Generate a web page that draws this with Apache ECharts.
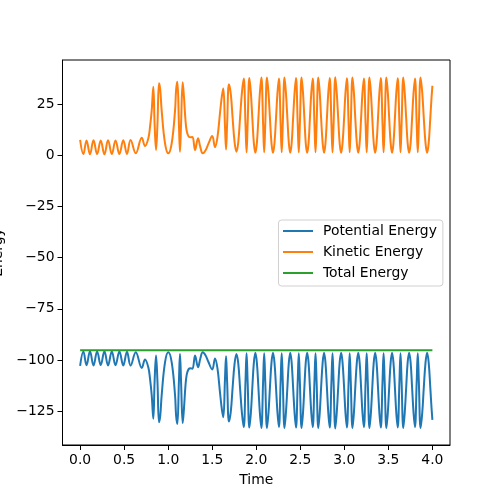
<!DOCTYPE html>
<html><head><meta charset="utf-8">
<script src="https://cdn.jsdelivr.net/npm/echarts@6/dist/echarts.min.js"></script>
<style>html,body{margin:0;padding:0;background:#fff}#c{width:500px;height:500px}</style>
</head><body><div id="c"></div>
<script>
const seriesNames = ['Potential Energy', 'Kinetic Energy', 'Total Energy'];
const xTicks = [0, 0.5, 1, 1.5, 2, 2.5, 3, 3.5, 4];
const yTicks = [-125, -100, -75, -50, -25, 0, 25];

const time = [0,0.037,0.073,0.112,0.152,0.193,0.234,0.276,0.317,0.36,0.402,0.446,0.49,0.532,0.573,0.632,0.70,0.737,0.775,0.794,0.813,0.831,
0.846,0.862,0.878,0.896,0.91,0.926,0.964,1.001,1.04,1.078,1.09,1.104,
1.122,1.134,1.146,1.165,1.18,1.195,1.21,1.232,1.256,1.276,1.305,1.339,1.365,1.392,1.425,1.456,1.50,1.532,1.56,1.588,1.61,1.626,
1.645,1.657,1.669,1.690,1.711,1.732,1.754,1.775,1.796,1.817,1.838,1.858,
1.878,1.890,1.902,1.922,1.939,1.956,1.973,1.99,2.007,2.024,2.041,2.058,
2.078,2.090,2.102,2.122,2.139,2.156,2.173,2.19,2.207,2.224,2.241,2.257,
2.277,2.289,2.301,2.321,2.337,2.354,2.37,2.386,2.402,2.418,2.435,2.451,
2.471,2.483,2.495,2.515,2.531,2.547,2.562,2.578,2.594,2.609,2.625,2.641,
2.661,2.673,2.685,2.705,2.721,2.737,2.754,2.77,2.786,2.802,2.818,2.834,
2.854,2.866,2.878,2.898,2.914,2.931,2.947,2.964,2.98,2.997,3.013,3.029,
3.049,3.061,3.073,3.093,3.109,3.125,3.142,3.158,3.174,3.19,3.206,3.222,
3.242,3.254,3.266,3.286,3.302,3.318,3.334,3.35,3.366,3.382,3.398,3.414,
3.434,3.446,3.458,3.478,3.494,3.51,3.526,3.542,3.558,3.574,3.59,3.606,
3.626,3.638,3.65,3.67,3.686,3.703,3.719,3.736,3.753,3.769,3.786,3.802,
3.822,3.834,3.846,3.866,3.885,3.903,3.922,3.94,3.958,3.976,3.99,4.0];

const kinetic = [7.6,0.6,7.3,0.5,7.4,0.6,7.2,0.5,7.4,0.6,7.3,0.6,7.4,0.7,7.5,1.0,8.6,4.5,8.4,14,22,33.5,
15,2.6,15,35.2,32,22,5.9,1.0,5.9,22,32,36,
15,1.8,15,35.7,28,18,12,9.2,8.8,9.0,2.6,8.3,4.0,1.0,2.5,5.6,9.4,4.0,9.0,20.5,29,32.7,
14,2.9,15,34.8,30,18,6.5,1.8,6.5,19,31,37.6,
15,1.5,15,37.8,30.5,17.8,6,1.2,6,17.8,30.5,38,
15,1.5,15,38,30.5,17.8,6,1.2,6,17.8,30.5,37.5,
15,1.5,15,38,30.5,17.8,6,1.2,6,17.8,30.5,37.8,
15,1.5,15,38,30.5,17.8,6,1.2,6,17.8,30.5,37.6,
15,1.5,15,38,30.5,17.8,6,1.2,6,17.8,30.5,37.8,
15,1.5,15,38.2,30.5,17.8,6,1.2,6,17.8,30.5,37.7,
15,1.5,15,38,30.5,17.8,6,1.2,6,17.8,30.5,37.6,
15,1.5,15,38,30.5,17.8,6,1.2,6,17.8,30.5,37.8,
15,1.5,15,38,30.5,17.8,6,1.2,6,17.8,30.5,37.7,
15,1.5,15,38,30.5,17.8,6,1.2,6,17.8,30.5,37.6,
15,1.5,15,38,30.5,17.8,6,1.2,6,18,28,34];

const potential = [-102.9,-95.9,-102.6,-95.8,-102.7,-95.9,-102.5,-95.8,-102.7,-95.9,-102.6,-95.9,-102.7,-96.0,-102.8,-96.3,-103.9,-99.8,-103.7,-109.3,-117.3,-128.8,
-110.3,-97.9,-110.3,-130.5,-127.3,-117.3,-101.2,-96.3,-101.2,-117.3,-127.3,-131.3,
-110.3,-97.1,-110.3,-131.0,-123.3,-113.3,-107.3,-104.5,-104.1,-104.3,-97.9,-103.6,-99.3,-96.3,-97.8,-100.9,-104.7,-99.3,-104.3,-115.8,-124.3,-128.0,
-109.3,-98.2,-110.3,-130.1,-125.3,-113.3,-101.8,-97.1,-101.8,-114.3,-126.3,-132.9,
-110.3,-96.8,-110.3,-133.1,-125.8,-113.1,-101.3,-96.5,-101.3,-113.1,-125.8,-133.3,
-110.3,-96.8,-110.3,-133.3,-125.8,-113.1,-101.3,-96.5,-101.3,-113.1,-125.8,-132.8,
-110.3,-96.8,-110.3,-133.3,-125.8,-113.1,-101.3,-96.5,-101.3,-113.1,-125.8,-133.1,
-110.3,-96.8,-110.3,-133.3,-125.8,-113.1,-101.3,-96.5,-101.3,-113.1,-125.8,-132.9,
-110.3,-96.8,-110.3,-133.3,-125.8,-113.1,-101.3,-96.5,-101.3,-113.1,-125.8,-133.1,
-110.3,-96.8,-110.3,-133.5,-125.8,-113.1,-101.3,-96.5,-101.3,-113.1,-125.8,-133.0,
-110.3,-96.8,-110.3,-133.3,-125.8,-113.1,-101.3,-96.5,-101.3,-113.1,-125.8,-132.9,
-110.3,-96.8,-110.3,-133.3,-125.8,-113.1,-101.3,-96.5,-101.3,-113.1,-125.8,-133.1,
-110.3,-96.8,-110.3,-133.3,-125.8,-113.1,-101.3,-96.5,-101.3,-113.1,-125.8,-133.0,
-110.3,-96.8,-110.3,-133.3,-125.8,-113.1,-101.3,-96.5,-101.3,-113.1,-125.8,-132.9,
-110.3,-96.8,-110.3,-133.3,-125.8,-113.1,-101.3,-96.5,-101.3,-113.3,-123.3,-129.3];

const totalTime = [0, 0.5, 1, 1.5, 2, 2.5, 3, 3.5, 4];
const total = [-95.3, -95.3, -95.3, -95.3, -95.3, -95.3, -95.3, -95.3, -95.3];

const colors = ['#1f77b4', '#ff7f0e', '#2ca02c'];
const FONT = 'DejaVu Sans';
const FS = 13.9;

function pairs(xs, ys) { return xs.map((x, i) => [x, ys[i]]); }

const chart = echarts.init(document.getElementById('c'), null, { renderer: 'canvas' });
const txt = { fontFamily: FONT, fontSize: FS, color: '#000' };

chart.setOption({
  animation: false,
  backgroundColor: '#fff',
  grid: { left: 62.5, right: 50, top: 60, bottom: 55, containLabel: false, outerBoundsMode: 'none',
          show: true, borderColor: '#000', borderWidth: 1, backgroundColor: 'transparent' },
  xAxis: {
    type: 'value', min: -0.2, max: 4.2,
    name: 'Time', nameLocation: 'middle', nameGap: 28, nameTextStyle: txt,
    axisLine: { show: true, onZero: false, lineStyle: { color: '#000', width: 1 } },
    axisTick: { show: true, inside: false, length: 5, lineStyle: { color: '#000', width: 1 }, customValues: xTicks },
    axisLabel: { customValues: xTicks, formatter: v => Number(v).toFixed(1), margin: 8, ...txt },
    splitLine: { show: false }
  },
  yAxis: {
    type: 'value', min: -141.6, max: 46.6,
    name: 'Energy', nameLocation: 'middle', nameGap: 50, nameTextStyle: txt,
    axisLine: { show: true, onZero: false, lineStyle: { color: '#000', width: 1 } },
    axisTick: { show: true, inside: false, length: 5, lineStyle: { color: '#000', width: 1 }, customValues: yTicks },
    axisLabel: { customValues: yTicks, formatter: v => (v < 0 ? '\u2212' + Math.abs(v) : String(v)), margin: 8, ...txt },
    splitLine: { show: false }
  },
  legend: {
    orient: 'vertical', left: 278.5, top: 220,
    padding: [4, 6, 6, 4.5], itemWidth: 30, itemHeight: 2, itemGap: 7, icon: 'rect',
    borderColor: '#d0d0d0', borderWidth: 1, borderRadius: 3, backgroundColor: '#fff',
    textStyle: { fontFamily: FONT, fontSize: FS, color: '#000', padding: [0, 0, 0, 5] },
    data: seriesNames
  },
  series: [
    { name: seriesNames[0], type: 'line', data: pairs(time, potential), showSymbol: false, smooth: 0.4, color: colors[0], lineStyle: { width: 2, color: colors[0] }, z: 2 },
    { name: seriesNames[1], type: 'line', data: pairs(time, kinetic), showSymbol: false, smooth: 0.4, color: colors[1], lineStyle: { width: 2, color: colors[1] }, z: 3 },
    { name: seriesNames[2], type: 'line', data: pairs(totalTime, total), showSymbol: false, color: colors[2], lineStyle: { width: 2, color: colors[2] }, z: 4 }
  ]
});
</script>
</body></html>
